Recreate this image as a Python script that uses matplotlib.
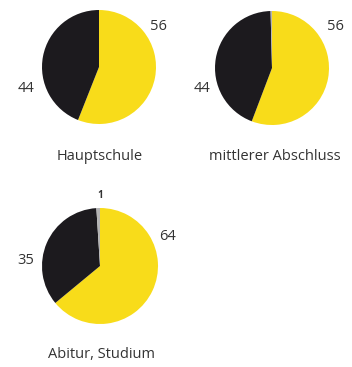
import matplotlib
matplotlib.use("Agg")
import matplotlib.pyplot as plt

plt.rcParams["font.family"] = ["Open Sans", "DejaVu Sans"]

# share of each group: yellow, black, grey (grey = no answer)
groups = ["Hauptschule", "mittlerer Abschluss", "Abitur, Studium"]
yellow_share = [56, 56, 64]
black_share = [44, 44, 35]
grey_share = [0, 0.4, 1]

COLORS = ["#f8dc1a", "#1c1a1e", "#b4b4b4"]
TEXT = "#333333"

W, H = 352, 367
fig = plt.figure(figsize=(W / 100, H / 100), dpi=100)
ax = fig.add_axes([0, 0, 1, 1])
ax.set_xlim(0, W)
ax.set_ylim(0, H)
ax.set_aspect("equal")
ax.axis("off")

# pie centre (px, from top), radius, label positions
layout = [
    dict(c=(99, 67), r=57, yl=(158, 27), bl=(26, 89), gl=None, cap=(100, 157)),
    dict(c=(272, 68), r=57, yl=(335, 27), bl=(202, 89), gl=None, cap=(275, 157)),
    dict(c=(100, 266), r=58, yl=(168, 237), bl=(26, 261), gl=(100, 196), cap=(102, 355)),
]

for i, lay in enumerate(layout):
    vals = [yellow_share[i], black_share[i], grey_share[i]]
    cx, cy = lay["c"]
    ax.pie(vals, colors=COLORS, startangle=90, counterclock=False,
           center=(cx, H - cy), radius=lay["r"], frame=True,
           wedgeprops=dict(linewidth=0))
    x, y = lay["yl"]
    ax.text(x, H - y, f"{yellow_share[i]:g}", ha="center", va="center",
            fontsize=10.5, color=TEXT)
    x, y = lay["bl"]
    ax.text(x, H - y, f"{black_share[i]:g}", ha="center", va="center",
            fontsize=10.5, color=TEXT)
    if lay["gl"]:
        x, y = lay["gl"]
        ax.text(x, H - y, f"{grey_share[i]:g}", ha="center", va="center",
                fontsize=7, color=TEXT, fontweight="bold")
    x, y = lay["cap"]
    ax.text(x, H - y, groups[i], ha="center", va="center",
            fontsize=10.5, color=TEXT)

ax.set_xlim(0, W)
ax.set_ylim(0, H)
ax.axis("off")
fig.savefig("out.png", dpi=100, facecolor="white")
